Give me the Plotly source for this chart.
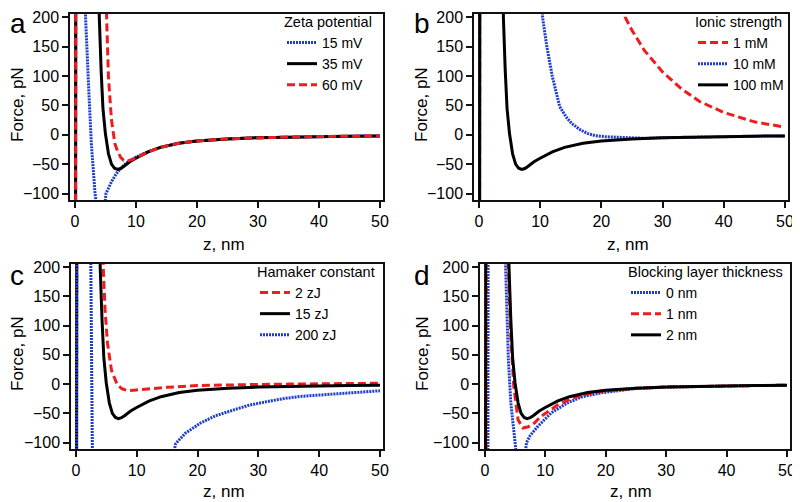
import plotly.graph_objects as go

# ── Style ──────────────────────────────────────────────────────────────────
BLUE = "#1c3ccc"
RED = "#ee1c1c"
BLACK = "#000000"
FONT = "Arial, Liberation Sans, sans-serif"

STYLE = {
    "blue": dict(color=BLUE, width=3, dash="2px,1px"),
    "red": dict(color=RED, width=3, dash="8px,4px"),
    "black": dict(color=BLACK, width=3),
}

# ── Data (z in nm, force in pN); values beyond ±range run off the axes ─────
# reference curve shared by all panels (35 mV, 100 mM, 15 zJ, 2 nm)
BASE_Z = [0.1, 0.15, 3.95, 4.0, 4.3, 4.6, 5.0, 5.5, 6.0, 6.5, 7.0, 7.5, 8.0, 9.0,
          10, 12, 14, 17, 20, 25, 30, 35, 40, 45, 50]
BASE_F = [-400, 400, 400, 200, 110, 45, 2, -32, -50, -57, -59, -57.5, -54, -46,
          -40, -29, -21.5, -14.5, -10.5, -7, -5, -3.8, -3, -2.4, -2]

# a: zeta potential
A15_Z = [0.1, 0.15, 1.65, 1.75, 2.3, 2.7, 3.3, 3.7, 4.2, 4.7, 5.1, 6.0, 6.8, 7.7, 8.7,
         10, 12, 14, 17, 20, 25, 30, 35, 40, 45, 50]
A15_F = [-400, 400, 400, 200, 71, -15, -100, -150, -170, -140, -100, -80, -66, -55, -46,
         -38, -29, -21.5, -14.5, -10.5, -7, -5, -3.8, -3, -2.4, -2]
A60_Z = [0.1, 0.15, 5.1, 5.2, 5.5, 6.0, 6.55, 7.0, 7.5, 8.0, 8.5, 9.3,
         10, 12, 14, 17, 20, 25, 30, 35, 40, 45, 50]
A60_F = [-400, 400, 400, 200, 99, 25, -15, -28, -38.5, -43.5, -45, -43,
         -40, -29, -21.5, -14.5, -10.5, -7, -5, -3.8, -3, -2.4, -2]

# b: ionic strength
B1_Z = [0.1, 0.15, 23.8, 23.9, 25, 27, 30, 33, 36, 40, 45, 50]
B1_F = [-400, 400, 400, 200, 178, 144, 107, 79, 57, 38, 22, 13]
B10_Z = [0.1, 0.15, 10.3, 10.4, 11.1, 12.0, 13.2, 14.2, 15.2, 16.5, 17.7, 19, 20.7,
         22.5, 24.5, 27, 30, 35, 40, 45, 50]
B10_F = [-400, 400, 400, 200, 150, 99, 48, 31, 19, 9, 2.3, -1.5, -3.4,
         -4.5, -5, -6, -5, -3.8, -3, -2.4, -2]

# c: Hamaker constant
C2_Z = [0.1, 0.15, 4.4, 4.5, 4.8, 5.2, 5.85, 6.8, 7.6, 8.5, 10, 12.5, 15, 20, 25,
        30, 35, 40, 45, 50]
C2_F = [-400, 400, 400, 200, 127, 70, 24, -1, -8, -11, -10, -7.5, -5.5, -2.5, -1.2,
        -0.5, 0, 0.5, 1, 1.5]
C200_Z = [0.1, 0.15, 2.4, 2.46, 2.7, 2.8, 10, 15.5, 16.1, 16.4, 18, 20.5, 23, 26, 28.5,
          31.4, 34, 36.9, 40, 42.3, 46, 50]
C200_F = [-400, 400, 400, 200, -100, -200, -400, -150, -118, -102, -84, -66.5, -54, -44,
          -36, -30, -25, -21, -18.5, -16.5, -13.5, -11.4]

# d: blocking layer thickness
D0_Z = [0.5, 0.55, 3.4, 3.44, 3.9, 4.3, 5.0, 5.3, 6.0, 6.6, 6.9, 7.5, 8.8, 11, 13.7,
        16, 19.2, 22, 25, 30, 35, 40, 45, 50]
D0_F = [-400, 400, 400, 200, 41, -32, -99.5, -130, -160, -125, -100, -88, -72, -49, -32,
        -22, -15, -11.5, -7.5, -5.2, -3.9, -3, -2.4, -2]
D1_Z = [0.2, 0.25, 3.85, 3.9, 4.3, 4.8, 5.5, 6.3, 7.2, 8.2, 9.2, 10.4, 12, 14, 17, 20,
        25, 30, 35, 40, 45, 50]
D1_F = [-400, 400, 400, 200, 80, -5, -61, -75, -73, -66.5, -56, -47, -36, -26, -16.5,
        -11.5, -7.2, -5, -3.8, -3, -2.4, -2]

PANELS = [
    ("a", "Zeta potential", [("15 mV", A15_Z, A15_F, "blue"),
                             ("35 mV", BASE_Z, BASE_F, "black"),
                             ("60 mV", A60_Z, A60_F, "red")]),
    ("b", "Ionic strength", [("1 mM", B1_Z, B1_F, "red"),
                             ("10 mM", B10_Z, B10_F, "blue"),
                             ("100 mM", BASE_Z, BASE_F, "black")]),
    ("c", "Hamaker constant", [("2 zJ", C2_Z, C2_F, "red"),
                               ("15 zJ", BASE_Z, BASE_F, "black"),
                               ("200 zJ", C200_Z, C200_F, "blue")]),
    ("d", "Blocking layer thickness", [("0 nm", D0_Z, D0_F, "blue"),
                                       ("1 nm", D1_Z, D1_F, "red"),
                                       ("2 nm", BASE_Z, BASE_F, "black")]),
]
X_TITLE = "z, nm"
Y_TITLE = "Force, pN"

# ── Layout geometry: page pixels; the html body adds an 8px offset ─────────
OFF = 8
W, H = 800 - OFF, 502 - OFF
X_DOM = [(70, 383), (474, 788), (71, 383), (480, 790)]
Y_DOM = [(14, 200), (14, 200), (264, 449), (264, 449)]
LEGEND_POS = [(282, 8), (693, 8), (255, 258), (626, 258)]
LETTER_POS = [(8, 23), (412, 24), (8, 275), (412, 275)]
XTITLE_POS = [(224, 245), (628, 245), (224, 491), (631, 491)]
YTITLE_POS = [(17, 105), (421, 105), (17, 354), (422, 354)]


def fx(p):
    return (p - OFF) / W


def fy(p):
    return 1 - (p - OFF) / H


def label(text, pos, size, angle=0, anchor="center"):
    return dict(
        text=text, x=fx(pos[0]), y=fy(pos[1]), xref="paper", yref="paper",
        xanchor=anchor, yanchor="middle", showarrow=False, textangle=angle,
        font=dict(size=size, family=FONT, color="black"),
    )


fig = go.Figure()
layout = dict(
    width=W, height=H,
    margin=dict(l=0, r=0, t=0, b=0, autoexpand=False),
    paper_bgcolor="white", plot_bgcolor="white",
    font=dict(family=FONT, size=15, color="black"),
    annotations=[],
)

for i, (letter, ltitle, series) in enumerate(PANELS):
    k = "" if i == 0 else str(i + 1)
    leg = "legend" + k
    for name, z, f, sty in series:
        fig.add_trace(go.Scatter(
            x=z, y=f, mode="lines", name=name, line=STYLE[sty],
            xaxis="x" + k, yaxis="y" + k, legend=leg, hoverinfo="skip",
        ))
    x0, x1 = X_DOM[i]
    y0, y1 = Y_DOM[i]
    common = dict(
        showline=True, mirror=True, linewidth=1.5, linecolor="#111",
        ticks="outside", ticklen=6, tickwidth=1.5, tickcolor="#111",
        showgrid=False, zeroline=False,
        tickfont=dict(size=16, family=FONT, color="black"),
    )
    layout["xaxis" + k] = dict(
        domain=[fx(x0), fx(x1)], anchor="y" + k, range=[-0.8, 50.5],
        tickvals=[0, 10, 20, 30, 40, 50], **common,
    )
    layout["yaxis" + k] = dict(
        domain=[fy(y1), fy(y0)], anchor="x" + k, range=[-111, 205.5],
        tickvals=[-100, -50, 0, 50, 100, 150, 200], **common,
    )
    lx, ly = LEGEND_POS[i]
    layout[leg] = dict(
        x=fx(lx), y=fy(ly), xref="container", yref="container",
        xanchor="left", yanchor="top",
        bgcolor="rgba(0,0,0,0)", borderwidth=0,
        font=dict(size=14, family=FONT, color="black"),
        title=dict(text=ltitle, side="top", font=dict(size=14.5)),
        tracegroupgap=0,
    )
    layout["annotations"] += [
        label(letter, LETTER_POS[i], 28, anchor="left"),
        label(X_TITLE, XTITLE_POS[i], 17),
        label(Y_TITLE, YTITLE_POS[i], 17, angle=-90),
    ]

fig.update_layout(**layout)
fig.write_html("out.html")
